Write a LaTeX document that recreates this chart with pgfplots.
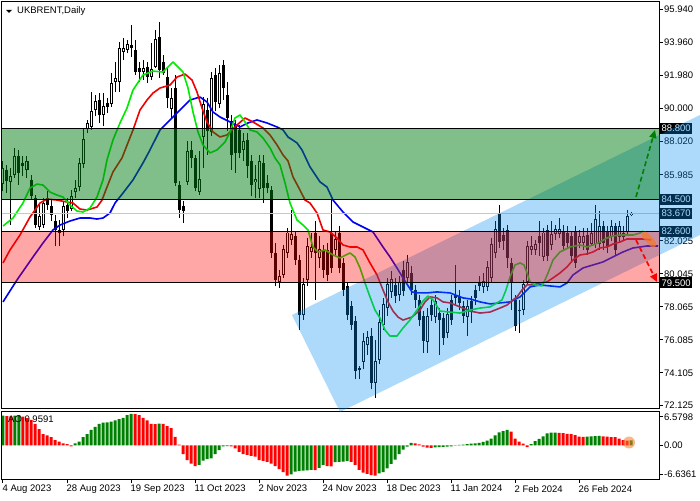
\documentclass[border=0pt]{standalone}
\usepackage{pgfplots}
\pgfplotsset{compat=1.18}
\usepackage{pgfplotstable}
\usepackage{fontspec}
\setmainfont{Liberation Sans}
\usetikzlibrary{arrows.meta}

\definecolor{lips}{RGB}{0,235,0}
\definecolor{teeth}{RGB}{240,0,0}
\definecolor{jaw}{RGB}{0,0,240}
\definecolor{aog}{RGB}{0,128,0}
\definecolor{aor}{RGB}{255,0,0}
\definecolor{zoneg}{RGB}{1,125,21}
\definecolor{chan}{RGB}{6,142,240}
\definecolor{blob}{RGB}{245,120,40}
\newcommand{\lbl}{\fontsize{9.5}{11}\selectfont}

% daily candles, bar index i: open high low close
\pgfplotstableread{
i o h l c
0 85.5 86.8 85.0 86.4
2 85.6 86.4 83.0 85.9
3 86.0 87.6 85.8 87.1
6 86.3 87.1 85.8 86.8
9 82.9 84.2 82.7 83.5
10 83.0 84.6 82.8 84.3
15 82.7 84.4 82.3 84.1
17 84.0 85.1 83.8 84.7
18 85.0 85.7 84.6 85.2
19 85.3 87.0 85.0 86.7
20 86.7 88.8 86.4 88.1
21 88.8 89.3 88.5 89.1
22 88.9 91.0 88.7 89.8
23 89.9 90.8 89.5 90.4
25 89.6 90.9 88.9 90.1
27 90.3 92.1 90.1 91.5
28 91.6 92.8 91.0 91.8
29 91.6 94.0 91.0 93.6
30 93.4 94.2 92.9 93.6
31 93.5 94.1 93.3 93.8
35 92.2 92.9 91.7 92.4
37 91.9 93.9 91.7 92.3
38 92.5 94.7 92.4 94.1
42 90.0 91.2 89.4 90.6
46 85.6 88.0 85.4 87.4
49 85.0 87.4 84.8 85.7
50 88.3 90.7 86.4 90.2
52 88.6 92.2 88.3 91.8
54 90.3 92.6 90.0 92.1
60 87.5 88.5 86.8 88.0
63 85.6 86.6 84.6 85.7
64 85.2 87.2 84.6 86.8
69 79.6 80.3 79.2 79.9
70 80.0 81.8 79.8 81.5
71 81.3 82.8 81.0 82.5
72 82.1 83.9 81.8 82.4
75 77.6 79.8 77.3 79.4
76 79.7 82.2 79.3 81.7
77 81.4 82.5 81.0 81.6
79 81.0 82.3 80.4 81.5
83 81.5 82.6 81.2 82.1
90 74.8 76.5 74.3 76.0
91 75.8 76.6 75.2 76.2
93 73.5 76.1 72.6 74.8
94 74.9 77.9 74.6 77.1
95 77.0 78.6 76.7 78.2
96 78.0 79.8 77.5 79.4
97 79.0 80.2 78.6 79.7
99 78.8 79.9 78.4 79.5
101 79.8 81.2 79.5 80.7
106 76.0 78.0 75.3 77.5
108 77.5 78.8 77.1 78.4
111 76.5 78.0 76.2 77.6
116 77.5 78.5 76.3 78.1
120 79.3 80.1 78.9 79.6
121 79.3 80.8 79.0 80.4
122 79.8 82.2 79.5 81.8
123 81.3 83.2 81.0 82.7
130 77.9 79.7 77.6 79.4
131 79.6 82.0 79.4 81.7
132 81.5 82.3 81.2 81.7
133 81.5 82.1 81.2 81.8
135 81.1 82.8 80.8 82.5
137 81.8 83.2 81.5 82.4
138 82.5 83.0 82.1 82.7
139 82.5 83.4 82.2 82.7
144 81.9 82.7 81.6 82.3
145 81.9 82.8 81.5 82.3
147 81.9 83.1 81.7 82.5
148 81.9 84.2 81.6 83.3
149 81.9 83.8 81.5 82.9
152 82.3 83.3 82.0 82.9
154 82.3 83.2 81.9 82.9
155 82.3 82.9 82.0 82.5
156 82.6 83.9 82.4 83.5
157 83.60 83.75 83.50 83.67
}\upbars

\pgfplotstableread{
i o h l c
1 86.3 86.6 84.9 85.6
4 87.1 87.5 85.4 86.1
5 86.7 87.1 85.9 86.5
7 85.7 86.0 84.5 84.7
8 84.6 84.8 82.8 83.0
11 84.6 85.0 83.9 84.2
12 84.1 84.5 83.2 83.6
13 83.2 83.6 81.7 82.7
14 82.7 83.3 81.7 82.5
16 84.2 84.6 83.4 83.8
24 90.5 90.9 89.1 89.6
26 90.3 90.6 89.7 90.1
32 93.8 95.0 93.1 93.6
33 93.5 94.1 92.0 92.2
34 92.4 92.8 91.6 92.2
36 92.5 92.8 91.5 91.9
39 94.3 95.2 91.8 92.3
40 92.8 93.2 92.0 92.1
41 91.9 92.4 90.0 90.6
43 91.2 92.0 85.3 85.5
44 85.4 85.6 83.4 83.9
45 84.1 84.4 83.1 83.8
47 87.5 88.0 86.4 87.0
48 87.0 87.2 85.0 85.2
51 89.9 90.6 87.2 88.6
53 92.0 92.4 89.8 90.4
55 92.6 92.9 90.5 91.2
56 90.8 91.6 88.6 89.4
57 89.2 89.6 86.3 87.2
58 89.0 89.3 86.1 87.3
59 88.7 89.0 87.0 87.3
61 88.1 88.5 85.8 86.5
62 86.8 87.2 84.7 85.4
65 86.7 87.2 84.3 85.2
66 85.5 86.0 84.9 85.2
67 85.1 85.3 81.0 81.3
68 81.3 81.9 79.3 79.7
73 82.3 82.6 80.6 80.9
74 80.9 81.2 76.7 77.6
78 82.5 83.2 78.5 81.3
80 81.4 81.8 79.8 80.3
81 81.5 81.9 79.6 80.0
82 82.5 84.5 80.1 80.4
84 82.5 82.9 80.1 80.4
85 80.7 81.0 78.7 79.1
86 79.3 79.5 77.3 77.6
87 78.1 78.4 76.7 77.0
88 77.2 77.5 73.7 74.2
89 74.4 74.5 73.7 74.3
92 76.3 76.8 73.1 73.5
98 79.4 79.8 78.3 78.7
100 80.3 80.8 78.7 79.0
102 80.1 80.5 78.8 79.1
103 79.1 79.4 78.0 78.5
104 78.5 78.8 76.9 77.3
105 77.5 77.8 75.3 76.0
107 78.2 78.6 77.2 77.6
109 77.7 78.0 75.2 77.3
110 77.4 77.7 75.8 76.2
112 78.5 78.8 77.0 77.3
113 78.8 80.6 78.2 78.6
114 78.7 79.1 77.9 78.3
115 78.1 78.4 77.1 77.5
117 78.4 78.7 77.1 77.8
118 79.1 79.4 78.2 78.6
119 79.5 79.9 79.0 79.3
124 83.7 84.2 81.6 81.96
125 82.4 82.8 81.5 82.0
126 82.7 83.0 80.4 81.0
127 80.7 81.0 77.9 79.5
128 78.5 78.8 76.6 76.9
129 77.9 78.5 76.5 77.85
134 82.3 83.2 81.1 81.9
136 82.7 83.0 80.8 81.1
140 82.6 83.0 81.4 81.7
141 82.5 82.9 81.6 81.9
142 82.3 82.6 80.7 81.1
143 82.6 82.9 80.4 80.7
146 82.4 82.8 81.2 81.5
150 82.9 83.2 81.5 81.9
151 82.6 82.9 81.3 81.7
153 82.9 83.1 81.2 81.5
}\dnbars

% alligator lines
\pgfplotstableread{
i p
0 82.92
2.5 83.40
5 84.30
6.75 85.20
8.5 85.44
10 85.38
11.75 84.96
13.5 84.78
15 84.66
16.75 84.18
18.5 83.82
20 83.76
21.75 84.00
23.5 84.66
25 85.69
26 86.89
27.5 88.09
29.25 89.11
31 90.01
32.5 91.09
35 91.99
37.5 92.23
40 92.17
42.5 92.77
45 92.17
46.25 91.21
47.5 89.77
48.75 88.57
50 87.79
51.75 87.31
53.5 87.49
55.5 87.97
56.75 88.57
58 89.41
59.25 89.59
60.5 89.17
61.75 88.69
63.5 88.57
65 88.21
66.75 87.61
68 87.01
69.25 86.59
70.5 85.51
71.75 84.30
73.5 83.28
75 82.98
76.25 82.68
77.5 81.66
78.75 81.36
80.5 81.48
82.5 81.18
84.25 81.00
86.75 81.30
88 81.06
89.25 80.40
90.5 79.50
91.75 78.66
93 77.87
94.25 77.39
95.5 76.67
96.75 76.31
98.5 76.31
100 76.79
101.75 77.27
103.5 77.87
105 78.41
106.25 78.71
107.5 78.48
109.25 77.81
111.75 77.75
114.25 77.69
116.75 77.87
119.25 77.99
121.75 78.06
123.5 78.30
124.75 78.48
125.75 79.08
126.75 79.86
128 80.58
129.25 80.70
130.25 80.58
131 80.10
131.75 79.56
133 79.38
134.75 79.32
135.5 79.68
136.25 80.10
137.5 80.88
139.25 81.36
141.75 81.66
144.25 81.78
146 81.66
147.5 81.78
149.25 81.96
151 82.20
152.5 82.32
154.25 82.38
156 82.38
157.5 82.38
159.25 82.50
160 82.62
}\lipsline

\pgfplotstableread{
i p
0 80.70
1.75 81.48
4.25 82.38
6.75 83.46
9.25 84.30
11 84.54
13.5 84.48
16 84.36
17.5 84.30
19.25 83.94
21 83.88
23.5 84.06
24.75 84.48
26 85.26
27.5 86.17
29.75 87.01
32.5 88.69
34.25 89.89
36 90.49
37.5 90.91
39.25 91.21
41.75 91.39
43.5 91.87
45.5 92.05
47.25 91.69
48.5 90.97
49.75 90.01
51 89.17
52.5 88.57
54.25 88.27
56 88.39
58.5 88.99
60.5 89.41
62.5 89.17
65 88.81
66.75 88.39
68.5 87.79
70 87.19
71.25 86.83
72.5 85.87
74.25 85.08
75.5 84.48
76.75 84.30
78.5 83.70
80 82.68
81.75 82.56
83.5 82.20
85 81.78
86.75 81.66
88.5 81.66
90 81.48
91.75 80.70
93.5 79.98
95 79.08
96.25 78.36
97.5 77.81
98.75 77.45
100 77.27
102.25 77.45
104.25 77.87
105.5 78.36
106.75 78.66
108.5 78.60
110 78.36
111.75 78.30
114.25 78.06
116.75 77.81
119.25 77.69
121.75 77.75
124.25 77.99
126 78.17
127.5 78.48
128.5 78.66
129.75 79.08
131 79.38
132.5 79.38
134.25 79.50
136 79.56
137.5 79.80
139.25 80.10
141 80.46
142.5 80.88
144.25 81.18
146 81.24
147.5 81.36
149.25 81.60
151 81.66
152.5 81.84
154.25 81.96
156 82.14
157.5 82.14
159.75 82.14
162 82.08
}\teethline

\pgfplotstableread{
i p
0 78.36
3.5 79.68
7.5 81.06
10 81.90
12.5 82.68
14.25 82.98
16.75 83.22
19.25 83.40
21.75 83.40
23.5 83.34
25 83.40
26.75 83.70
28 84.30
30 84.90
32.5 85.69
35 86.71
36.75 87.49
39.25 88.69
41.75 89.29
44.25 89.89
46.75 90.49
49.25 90.67
51 90.37
52.5 89.77
54.25 89.47
56.75 89.17
59.25 88.87
61.25 89.11
63.5 89.29
66 89.11
68.5 88.87
70 88.69
71.25 88.27
73.5 87.91
74.75 87.49
76.75 86.47
79.25 85.57
81 85.26
82.5 84.48
85 83.76
87.5 83.16
90 82.86
92.5 82.56
95 81.66
96.75 81.06
98.5 80.40
100 79.80
102.25 78.96
103.5 78.90
106 78.90
108.5 78.96
111.75 78.90
115 78.60
116.75 78.54
119.25 78.36
121.75 78.24
124.25 78.30
126.75 78.36
129.25 78.66
131.75 79.26
134.25 79.38
136.75 79.32
139.25 79.26
141 79.50
142.5 79.98
145 80.40
147.5 80.58
150 80.76
152.5 81.06
155 81.36
157.5 81.60
161 81.72
163.75 81.72
}\jawline

% awesome oscillator, rising and falling bars
\pgfplotstableread{
i v
0 6.9
3 6.9
4 7.0
18 0.47
19 0.86
20 1.9
21 2.6
22 3.6
23 4.3
24 5.0
25 5.3
26 5.35
27 5.5
28 5.8
29 6.1
30 6.4
31 7.0
32 7.3
39 5.05
49 -4.5
50 -3.5
51 -3.2
52 -3.0
53 -2.0
54 -1.07
55 -0.2
56 -0.15
72 -6.7
73 -6.1
74 -5.9
75 -5.85
76 -5.8
77 -5.7
79 -5.2
80 -4.5
83 -3.9
84 -3.8
85 -3.75
86 -3.6
94 -6.5
95 -6.2
96 -5.3
97 -4.3
98 -3.3
99 -2.0
100 -1.0
101 -0.3
102 0.6
108 -0.45
109 -0.4
110 -0.35
111 -0.3
112 -0.2
113 0.05
114 0.1
115 0.2
116 0.3
117 0.4
118 0.5
119 0.6
120 0.8
121 1.1
122 1.6
123 2.3
124 3.0
125 3.3
126 3.6
132 0.3
133 1.0
134 1.5
135 2.1
136 2.8
137 2.95
138 2.98
146 2.05
147 2.1
148 2.15
149 2.2
157 1.15
}\aoup

\pgfplotstableread{
i v
1 6.8
2 6.75
5 6.65
6 6.3
7 5.9
8 5.0
9 3.8
10 2.6
11 2.3
12 1.9
13 1.25
14 0.86
15 0.47
16 0.3
17 -0.2
33 7.25
34 7.0
35 6.4
36 5.8
37 5.0
38 4.95
40 5.0
41 4.5
42 4.0
43 2.0
44 0.2
45 -2.0
46 -3.4
47 -4.2
48 -4.8
57 -0.2
58 -0.7
59 -1.5
60 -2.0
61 -2.2
62 -2.4
63 -2.6
64 -3.4
65 -3.6
66 -3.8
67 -4.2
68 -4.8
69 -5.5
70 -6.2
71 -7.0
78 -5.75
81 -4.8
82 -4.85
87 -3.8
88 -4.5
89 -5.7
90 -6.3
91 -6.6
92 -6.9
93 -7.0
103 0.5
104 0.25
105 -0.3
106 -0.5
107 -0.55
127 3.2
128 1.6
129 0.9
130 0.4
131 -0.4
139 2.9
140 2.85
141 2.7
142 2.6
143 2.4
144 2.05
145 2.0
150 2.1
151 2.05
152 1.95
153 1.9
154 1.55
155 1.2
156 1.1
}\aodown

\pgfplotsset{
  wick/.style={draw=none, mark=none, forget plot,
    error bars/.cd, y dir=plus, y explicit, error mark=none,
    error bar style={line width=1pt, black}},
  body/.style={draw=none, mark=none, forget plot,
    error bars/.cd, y dir=both, y explicit, error mark=none,
    error bar style={line width=3pt, #1}},
  inner/.style={draw=none, mark=none, forget plot,
    error bars/.cd, y dir=both, y explicit, error mark=none,
    error bar style={line width=1pt, white}},
}

\begin{document}
\begin{tikzpicture}
\useasboundingbox (0,0) rectangle (700pt,500pt);

\begin{axis}[
  at={(2pt,92pt)}, anchor=south west,
  width=657pt, height=406pt, scale only axis,
  xmin=-0.25, xmax=164, ymin=71.986, ymax=96.379,
  ticks=none, axis line style={line width=1pt},
]
% wicks
\addplot[wick] table[x=i, y=l, y error expr={\thisrow{h}-\thisrow{l}}] {\upbars};
\addplot[wick] table[x=i, y=l, y error expr={\thisrow{h}-\thisrow{l}}] {\dnbars};
% bodies
\addplot[body=black] table[x=i, y expr={(\thisrow{o}+\thisrow{c})/2},
  y error expr={(\thisrow{o}-\thisrow{c})/2}] {\dnbars};
\addplot[body=black] table[x=i, y expr={(\thisrow{o}+\thisrow{c})/2},
  y error expr={(\thisrow{c}-\thisrow{o})/2+0.03}] {\upbars};
\addplot[inner] table[x=i, y expr={(\thisrow{o}+\thisrow{c})/2},
  y error expr={max((\thisrow{c}-\thisrow{o})/2-0.03,0)}] {\upbars};
% alligator
\addplot[jaw, line width=1.6pt, line join=round, mark=none] table[x=i, y=p] {\jawline};
\addplot[teeth, line width=1.6pt, line join=round, mark=none] table[x=i, y=p] {\teethline};
\addplot[lips, line width=1.6pt, line join=round, mark=none] table[x=i, y=p] {\lipsline};
\end{axis}

\begin{axis}[
  at={(2pt,21pt)}, anchor=south west,
  width=657pt, height=68pt, scale only axis,
  xmin=-0.25, xmax=164, ymin=-7.79, ymax=7.98,
  axis line style={line width=1pt},
  ytick=\empty,
  xtick={0,16,32,48,64,80,96,112,128,144},
  xticklabels={4 Aug 2023,28 Aug 2023,19 Sep 2023,11 Oct 2023,2 Nov 2023,24 Nov 2023,18 Dec 2023,11 Jan 2024,2 Feb 2024,26 Feb 2024},
  xtick pos=bottom, tick align=outside, major tick length=4pt,
  tick style={black, line width=1pt},
  xticklabel style={anchor=north west, inner sep=0pt, xshift=-0.5pt, yshift=-2pt, font=\lbl},
]
\addplot[ybar, bar width=3pt, bar shift=0pt, fill=aog, draw=none] table[x=i, y=v] {\aoup};
\addplot[ybar, bar width=3pt, bar shift=0pt, fill=aor, draw=none] table[x=i, y=v] {\aodown};
\end{axis}

\begin{scope}[x=1pt, y=1pt]
% price scale
\foreach \ty/\t in {490.7/95.940, 457.74/93.960, 424.78/91.980, 391.83/90.000,
  358.87/88.020, 325.0/85.985, 259.09/82.025, 226.13/80.045, 193.17/78.065,
  160.22/76.085, 127.26/74.105, 94.30/72.125} {
  \draw[line width=1pt] (659,\ty) -- (663,\ty);
  \node[anchor=west, inner sep=0pt, font=\lbl] at (664,\ty) {\t};
}
\foreach \ty/\t in {83/6.5798, 54.6/0.00, 26/-6.6361} {
  \draw[line width=1pt] (659,\ty) -- (663,\ty);
  \node[anchor=west, inner sep=0pt, font=\lbl] at (664,\ty) {\t};
}
\foreach \ty/\t in {371.85/88.800, 300.28/84.500, 286.47/83.670, 268.66/82.600, 217.06/79.500} {
  \node[anchor=west, fill=black, text=white, inner xsep=1.5pt, inner ysep=0pt,
    minimum height=11pt, font=\lbl] at (660,\ty) {\t};
}
\draw[gray!45, line width=1pt] (2,286.47) -- (659,286.47);
% trend channel
\fill[chan, opacity=0.33] (292,185) -- (700,385) -- (700,265) -- (340,88) -- cycle;
% zones
\fill[zoneg, opacity=0.5] (2,300.28) rectangle (659,371.85);
\fill[red, opacity=0.35] (2,217.06) rectangle (659,268.66);
\foreach \ty in {371.85, 300.28, 268.66, 217.06}
  \draw[black, line width=1pt] (2,\ty) -- (659,\ty);
% forecast arrows
\draw[aog, line width=1.6pt, dash pattern=on 5pt off 3pt, -{Triangle[length=8pt,width=7pt]}] (636,303) -- (655,370);
\draw[red, line width=1.6pt, dash pattern=on 5pt off 3pt, -{Triangle[length=8pt,width=7pt]}] (636,260) -- (657,218);
\draw[blob, opacity=0.7, line width=7pt, line cap=round] (645,265) -- (653,256);
% titles
\fill (6,490) -- (12,490) -- (9,487) -- cycle;
\node[anchor=west, inner sep=0pt, font=\lbl] at (17,489) {UKBRENT,Daily};
\node[anchor=west, inner sep=0pt, font=\lbl] at (8,81) {AO 0.9591};
\fill[blob, opacity=0.55] (629,57.5) circle (6);
\end{scope}
\end{tikzpicture}
\end{document}
